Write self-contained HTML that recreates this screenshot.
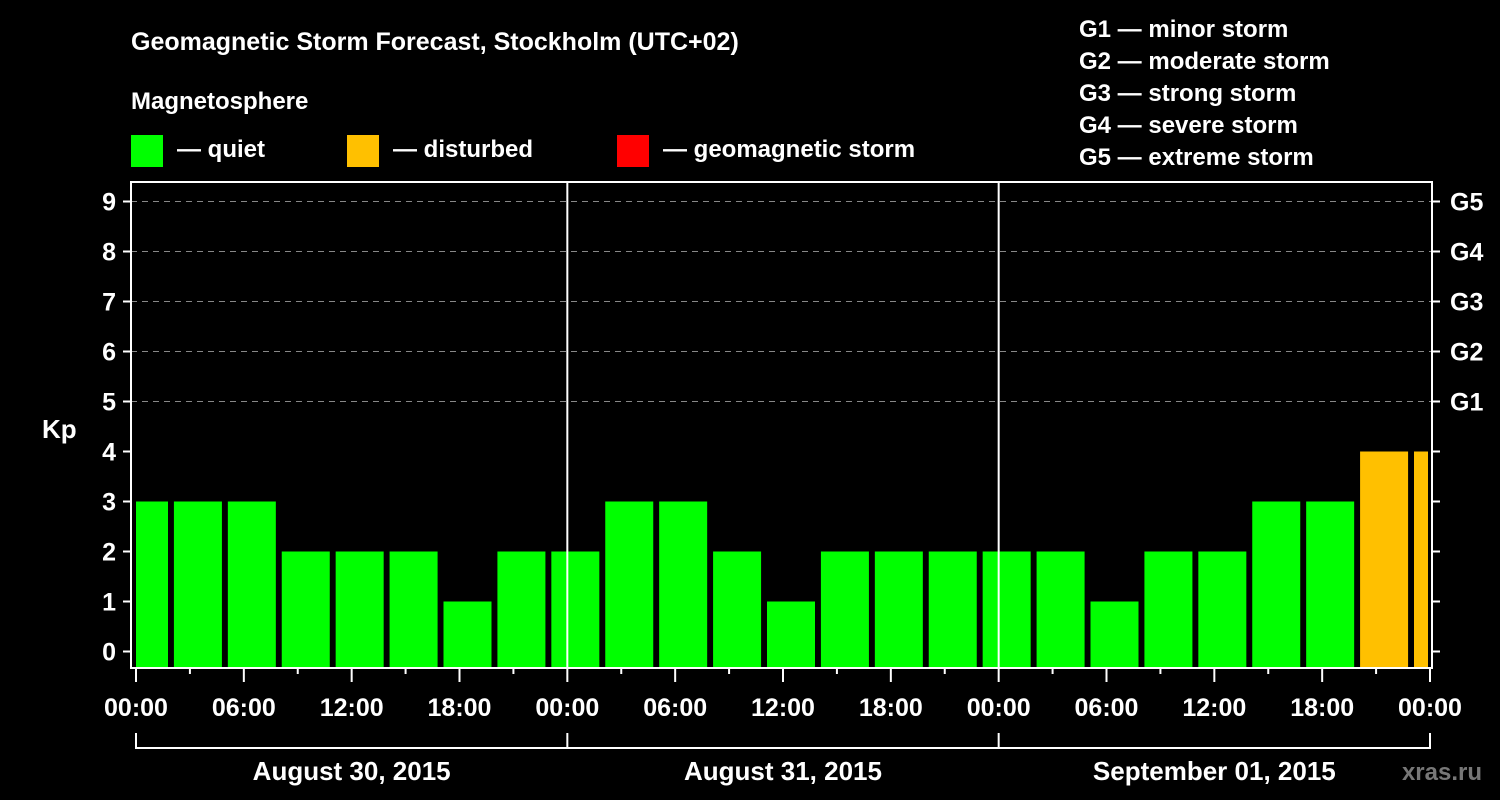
<!DOCTYPE html>
<html><head><meta charset="utf-8"><style>
body{margin:0;background:#000;}
svg{display:block;font-family:"Liberation Sans",sans-serif;font-weight:bold;}
</style></head><body>
<svg id="c" width="1500" height="800" viewBox="0 0 1500 800">
<rect width="1500" height="800" fill="#000"/>
<text x="131" y="50" fill="#fff" font-size="25">Geomagnetic Storm Forecast, Stockholm (UTC+02)</text>
<text x="131" y="109" fill="#fff" font-size="24">Magnetosphere</text>
<g><rect x="131" y="135" width="32" height="32" fill="#00ff00"/><text x="177" y="157" fill="#fff" font-size="24">— quiet</text></g>
<g><rect x="347" y="135" width="32" height="32" fill="#ffc000"/><text x="393" y="157" fill="#fff" font-size="24">— disturbed</text></g>
<g><rect x="617" y="135" width="32" height="32" fill="#ff0000"/><text x="663" y="157" fill="#fff" font-size="24">— geomagnetic storm</text></g>
<g fill="#fff" font-size="24">
<text x="1079" y="37">G1 — minor storm</text>
<text x="1079" y="69">G2 — moderate storm</text>
<text x="1079" y="101">G3 — strong storm</text>
<text x="1079" y="133">G4 — severe storm</text>
<text x="1079" y="165">G5 — extreme storm</text>
</g>
<text x="42" y="438" fill="#fff" font-size="26">Kp</text>
<text x="1482" y="780" fill="#777" font-size="24" text-anchor="end">xras.ru</text>
<g id="plot"></g>
</svg>
<script>
const kpValues=[3,3,3,2,2,2,1,2, 2,3,3,2,1,2,2,2, 2,2,1,2,2,3,3,4,4];
const yTicks=[0,1,2,3,4,5,6,7,8,9];
const gLabels=["G1","G2","G3","G4","G5"];
const gLevels=[5,6,7,8,9];
const xTickLabels=["00:00","06:00","12:00","18:00","00:00","06:00","12:00","18:00","00:00","06:00","12:00","18:00","00:00"];
const dayLabels=["August 30, 2015","August 31, 2015","September 01, 2015"];

const NS="http://www.w3.org/2000/svg";
const g=document.getElementById('plot');
const L=131,R=1432,T=182,B=668;
const x=h=>136+h*(1294/72);
const y=v=>651.5-v*50;
function el(t,a){const e=document.createElementNS(NS,t);for(const k in a)e.setAttribute(k,a[k]);g.appendChild(e);return e;}

gLevels.forEach((v,i)=>{
  const l=el('line',{x1:L,x2:R,y1:y(v),y2:y(v),stroke:'#888','stroke-width':1,'stroke-dasharray':'6,5'});
  
  
  const t=el('text',{x:1450,y:y(v)+9,fill:'#fff','font-size':25});
  t.textContent=gLabels[i];
  
  
});
kpValues.forEach((v,k)=>{
  let x0=x(3*k)-16,x1=x0+48;
  x0=Math.max(x0,136);x1=Math.min(x1,1428);
  const r=el('rect',{x:x0,y:y(v),width:x1-x0,height:y(0)+16.5-y(v),fill:v>=5?'#ff0000':(v>=4?'#ffc000':'#00ff00')});
  
  
});
[1,2].forEach(d=>{
  const l=el('line',{x1:x(24*d),x2:x(24*d),y1:T,y2:B,stroke:'#fff','stroke-width':2});
  
  
});
const fr=el('rect',{x:L,y:T,width:R-L,height:B-T,fill:'none',stroke:'#fff','stroke-width':2});


yTicks.forEach(v=>{
  el('line',{x1:L-8,x2:L,y1:y(v),y2:y(v),stroke:'#fff','stroke-width':2});
  el('line',{x1:R,x2:R+8,y1:y(v),y2:y(v),stroke:'#fff','stroke-width':2});
  const t=el('text',{x:116,y:y(v)+9,fill:'#fff','font-size':25,'text-anchor':'end'});
  t.textContent=v;
  
  
});
for(let h=0;h<=72;h+=3){
  el('line',{x1:x(h),x2:x(h),y1:B,y2:B+(h%6?6:14),stroke:'#fff','stroke-width':2});
}
xTickLabels.forEach((s,i)=>{
  const t=el('text',{x:x(6*i),y:716,fill:'#fff','font-size':25,'text-anchor':'middle'});
  t.textContent=s;
  
  
});
el('line',{x1:x(0),x2:x(72),y1:748,y2:748,stroke:'#fff','stroke-width':2});
for(let d=0;d<=3;d++) el('line',{x1:x(24*d),x2:x(24*d),y1:733,y2:749,stroke:'#fff','stroke-width':2});
dayLabels.forEach((s,i)=>{
  const t=el('text',{x:x(24*i+12),y:780,fill:'#fff','font-size':26,'text-anchor':'middle'});
  t.textContent=s;
  
  
});
</script>
</body></html>
